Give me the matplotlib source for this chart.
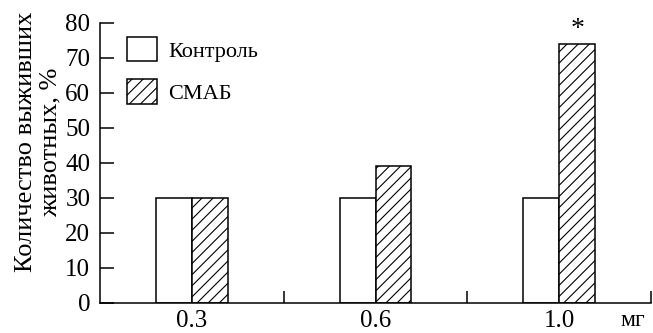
import matplotlib
matplotlib.use("Agg")
import matplotlib.pyplot as plt
import numpy as np

plt.rcParams['font.family'] = ['Liberation Serif', 'DejaVu Serif']
plt.rcParams['hatch.linewidth'] = 0.8

doses = ["0.3", "0.6", "1.0"]
control = [30, 30, 30]
smab = [30, 39, 74]
series_labels = ["Контроль", "СМАБ"]
ylabel = "Количество выживших\nживотных, %"
unit = "мг"
yticks = [0, 10, 20, 30, 40, 50, 60, 70, 80]

W, H = 653, 333
fig = plt.figure(figsize=(W / 100, H / 100), dpi=100)
ax = fig.add_axes([100 / W, 30.3 / H, 551 / W, 280 / H])

x = np.arange(len(doses))
bw = 0.196
ax.bar(x - bw / 2, control, bw, color="white", edgecolor="black", linewidth=1.1, label=series_labels[0])
ax.bar(x + bw / 2, smab, bw, color="white", edgecolor="black", linewidth=1.1, hatch="///", label=series_labels[1])

ax.set_xlim(-0.5, 2.5)
ax.set_ylim(0, 80)
ax.set_yticks(yticks)
ax.set_xticks(x)
ax.set_xticklabels(doses)
ax.set_xticks([0.5, 1.5, 2.5], minor=True)
ax.tick_params(axis="x", which="major", length=0, pad=5, labelsize=18)
ax.tick_params(axis="x", which="minor", direction="in", length=9, width=1.1)
ax.tick_params(axis="y", direction="in", length=10, width=1.1, pad=7, labelsize=18)

for s in ["top", "right"]:
    ax.spines[s].set_visible(False)
for s in ["left", "bottom"]:
    ax.spines[s].set_linewidth(1.1)

ax.set_ylabel(ylabel, fontsize=19, linespacing=1.12)
ax.yaxis.set_label_coords(-0.07, 0.574)

ax.text(x[2] + bw / 2, smab[2] + 0.5, "*", ha="center", va="bottom", fontsize=20)
ax.text(0.989, -0.025, unit, transform=ax.transAxes, ha="right", va="top", fontsize=17)

ax.legend(loc="upper left", bbox_to_anchor=(27 / 551, (302.7 - 37) / 280), frameon=False,
          borderaxespad=0, borderpad=0, fontsize=16, handlelength=1.35, handleheight=1.3,
          handletextpad=0.5, labelspacing=0.8)

fig.savefig("out.png", dpi=100)
